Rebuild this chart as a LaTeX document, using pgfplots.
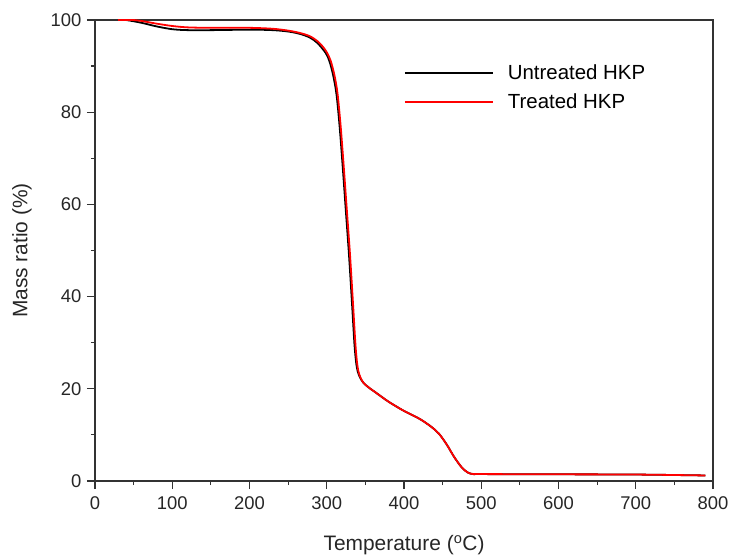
\documentclass[border=0pt]{standalone}
\usepackage{fontspec}
\setmainfont{Liberation Sans}
\usepackage{pgfplots}
\pgfplotsset{compat=1.18}
\begin{document}
\begin{tikzpicture}
\begin{axis}[
  name=ax,
  scale only axis,
  width=618bp,
  height=461bp,
  xmin=0, xmax=800,
  ymin=0, ymax=100,
  xtick={0,100,...,800},
  ytick={0,20,...,100},
  minor tick num=1,
  tick align=outside,
  tick pos=left,
  major tick length=8bp,
  minor tick length=4bp,
  axis line style={line width=1.3pt, black!80},
  every tick/.style={line width=1.2pt, black!80},
  ticklabel style={font=\fontsize{18.5}{22}\selectfont, text=black!85},
  yticklabel style={xshift=-2bp},
  xticklabel style={yshift=-4bp},
  /pgf/number format/assume math mode=true,
  label style={font=\fontsize{21}{24}\selectfont, text=black!85},
  xlabel={Temperature (\textsuperscript{o}C)},
  ylabel={Mass ratio (\%)},
  xlabel style={at={([yshift=-64bp]rel axis cs:0.5,0)}, anchor=center},
  ylabel style={at={([xshift=-73bp]rel axis cs:0,0.5)}, anchor=center},
  legend style={
    draw=none, fill=none,
    at={(0.495,0.912)}, anchor=north west,
    font=\fontsize{20.5}{24}\selectfont,
    row sep=9bp,
    legend cell align=left,
    /tikz/every odd column/.append style={column sep=12bp},
  },
  legend image code/.code={\draw[#1] (0bp,0bp) -- (88bp,0bp);},
]
\addplot[black, line width=1.8pt, smooth] coordinates {
  (30,100) (40,100) (60,99.4) (80,98.6) (100,98.0) (120,97.8) (150,97.8)
  (200,97.9) (230,97.8) (250,97.5) (265,97.0) (278,96.2) (288,95.0)
  (298.8,92.8) (303.8,90.9) (308.8,87.6) (312.8,83.6) (316.8,76.6)
  (320.8,67.8) (324.8,58.4) (328.8,49.0) (332.8,38.2) (335.8,29.8)
  (337.9,25.9) (340,23.8) (343.5,22.3) (348,21.2) (355,20.2)
  (365,19.0) (380,17.2) (400,15.2) (420,13.5)
  (435,11.8) (445,10.3) (455,8.0) (465,5.2) (475,2.9) (483,1.8)
  (490,1.5) (500,1.5) (600,1.45) (700,1.4) (790,1.2)
};
\addlegendentry{Untreated HKP}
\addplot[red, line width=1.8pt, smooth] coordinates {
  (30,100) (50,100) (60,99.8) (80,99.2) (100,98.7) (120,98.4) (150,98.3)
  (200,98.3) (230,98.1) (250,97.7) (265,97.2) (278,96.5) (288,95.4)
  (295,94.2) (300,93.0) (305,91.2) (310,88.0) (314,84.0)
  (318,77.0) (322,68.2) (326,58.8) (330,49.4) (334,38.5)
  (337,30.0) (339,26.0) (341,23.8) (344,22.3) (348,21.2) (355,20.2)
  (365,19.0) (380,17.2) (400,15.2) (420,13.5)
  (435,11.8) (445,10.3) (455,8.0) (465,5.2) (475,2.9) (483,1.8)
  (490,1.5) (500,1.5) (600,1.45) (700,1.4) (790,1.2)
};
\addlegendentry{Treated HKP}
\end{axis}
\path ([shift={(-95bp,-75bp)}]ax.south west) ([shift={(20bp,20bp)}]ax.north east);
\end{tikzpicture}
\end{document}
